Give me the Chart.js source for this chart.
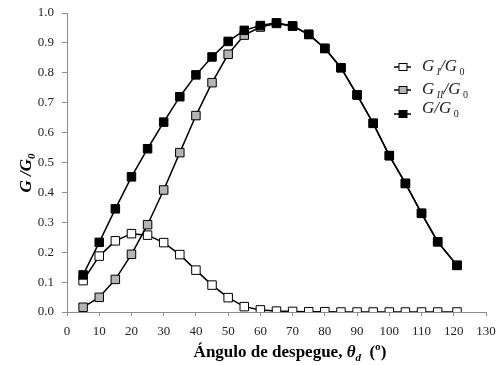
<!DOCTYPE html>
<html>
<head>
<meta charset="utf-8">
<script src="https://cdn.jsdelivr.net/npm/chart.js@4/dist/chart.umd.min.js"></script>
<style>
  html, body { margin: 0; padding: 0; background: #fff; }
  #wrap { width: 497px; height: 365px; position: relative; }
</style>
</head>
<body>
<div id="wrap"><canvas id="chart"></canvas></div>
<script>
// takeoff angle (deg)
const angles = [5, 10, 15, 20, 25, 30, 35, 40, 45, 50, 55, 60, 65, 70, 75, 80, 85, 90, 95, 100, 105, 110, 115, 121];
const gI = [0.105, 0.187, 0.238, 0.262, 0.257, 0.232, 0.192, 0.140, 0.090, 0.048, 0.018, 0.007, 0.003, 0.002, 0.001, 0.001, 0, 0, 0, 0, 0, 0, 0, 0];
const gII = [0.016, 0.049, 0.109, 0.193, 0.292, 0.408, 0.533, 0.657, 0.767, 0.862, 0.926, 0.953, 0.965, 0.956, 0.928, 0.881, 0.817, 0.726, 0.631, 0.523, 0.430, 0.330, 0.235, 0.156];
const gTotal = [0.124, 0.233, 0.345, 0.452, 0.546, 0.635, 0.720, 0.793, 0.853, 0.905, 0.942, 0.958, 0.967, 0.957, 0.929, 0.882, 0.817, 0.726, 0.631, 0.523, 0.430, 0.330, 0.235, 0.156];

const serif = '"Liberation Serif", "Times New Roman", serif';
const axisGrey = '#8c8c8c';

function pts(vals) {
    return angles.map((a, i) => ({x: a, y: vals[i]}));
}

function series(label, vals, fill, order) {
    return {
        label: label,
        data: pts(vals),
        borderColor: '#000',
        borderWidth: 1.5,
        pointStyle: 'rect',
        pointRadius: 6,
        pointBorderWidth: 1,
        pointBorderColor: '#000',
        pointBackgroundColor: fill,
        backgroundColor: fill,
        tension: 0,
        order: order,
    };
}

// draw a list of [text, font, dy] runs starting at x
function drawRuns(ctx, runs, x, y) {
    let cx = x;
    runs.forEach(r => {
        ctx.font = r[1];
        ctx.fillText(r[0], cx, y + (r[2] || 0));
        cx += ctx.measureText(r[0]).width;
    });
    return cx - x;
}

function runsWidth(ctx, runs) {
    let w = 0;
    runs.forEach(r => {
        ctx.font = r[1];
        w += ctx.measureText(r[0]).width;
    });
    return w;
}

const extras = {
    id: 'extras',
    afterDraw(chart) {
        const ctx = chart.ctx;
        ctx.save();
        ctx.fillStyle = '#000';
        ctx.textBaseline = 'alphabetic';
        ctx.textAlign = 'left';

        // x title
        const xRuns = [
            ['Ángulo de despegue, ', 'bold 17px ' + serif],
            ['θ', 'bold italic 17px ' + serif],
            ['d', 'bold italic 11px ' + serif, 4],
            ['  (º)', 'bold 17px ' + serif],
        ];
        const xw = runsWidth(ctx, xRuns);
        drawRuns(ctx, xRuns, 290 - xw / 2, 357);

        // y title
        const yRuns = [
            ['G /G', 'bold italic 17px ' + serif],
            ['0', 'bold italic 11px ' + serif, 4],
        ];
        const yw = runsWidth(ctx, yRuns);
        ctx.save();
        ctx.translate(31, 173);
        ctx.rotate(-Math.PI / 2);
        drawRuns(ctx, yRuns, -yw / 2, 0);
        ctx.restore();

        // legend
        const legend = [
            {fill: '#fff', my: 67, ty: 71, runs: [['G', 'italic 17px ' + serif], [' I', 'italic 10px ' + serif, 4], ['/G', 'italic 17px ' + serif], [' 0', '10px ' + serif, 4]]},
            {fill: '#b4b4b4', my: 90, ty: 94, runs: [['G', 'italic 17px ' + serif], [' II', 'italic 10px ' + serif, 4], ['/G', 'italic 17px ' + serif], [' 0', '10px ' + serif, 4]]},
            {fill: '#000', my: 114, ty: 113, runs: [['G', 'italic 17px ' + serif], ['/G', 'italic 17px ' + serif], [' 0', '10px ' + serif, 4]]},
        ];
        legend.forEach(l => {
            ctx.strokeStyle = '#000';
            ctx.lineWidth = 1.5;
            ctx.beginPath();
            ctx.moveTo(394, l.my);
            ctx.lineTo(411, l.my);
            ctx.stroke();
            ctx.fillStyle = l.fill;
            ctx.fillRect(399, l.my - 3.5, 8, 7);
            ctx.lineWidth = 1;
            ctx.strokeRect(399, l.my - 3.5, 8, 7);
            ctx.fillStyle = '#222';
            drawRuns(ctx, l.runs, 422, l.ty);
        });
        ctx.restore();
    }
};

new Chart(document.getElementById('chart'), {
    type: 'line',
    data: {
        datasets: [
            series('GI/G0', gI, '#fff', 2),
            series('GII/G0', gII, '#b4b4b4', 1),
            series('G/G0', gTotal, '#000', 0),
        ]
    },
    options: {
        responsive: true,
        maintainAspectRatio: false,
        animation: false,
        layout: {padding: {top: 13, right: 11, left: 0, bottom: 0}},
        plugins: {
            legend: {display: false},
            tooltip: {enabled: false},
        },
        scales: {
            x: {
                type: 'linear',
                min: 0,
                max: 130,
                border: {color: axisGrey, width: 1},
                grid: {display: true, drawOnChartArea: false, drawTicks: true, tickLength: 4, color: axisGrey},
                ticks: {
                    stepSize: 10,
                    padding: 8,
                    maxRotation: 0,
                    color: '#222',
                    font: {family: serif, size: 13},
                },
                afterFit(scale) {
                    scale.height = 53;
                    scale.paddingLeft = 0;
                    scale.paddingRight = 0;
                },
            },
            y: {
                min: 0,
                max: 1,
                border: {color: axisGrey, width: 1},
                grid: {display: true, drawOnChartArea: false, drawTicks: true, tickLength: 5, color: axisGrey},
                ticks: {
                    stepSize: 0.1,
                    padding: 8,
                    color: '#222',
                    font: {family: serif, size: 13},
                    callback: v => v.toFixed(1),
                },
                afterFit(scale) {
                    scale.width = 67;
                    scale.paddingTop = 0;
                    scale.paddingBottom = 0;
                },
            }
        }
    },
    plugins: [extras],
});
</script>
</body>
</html>
